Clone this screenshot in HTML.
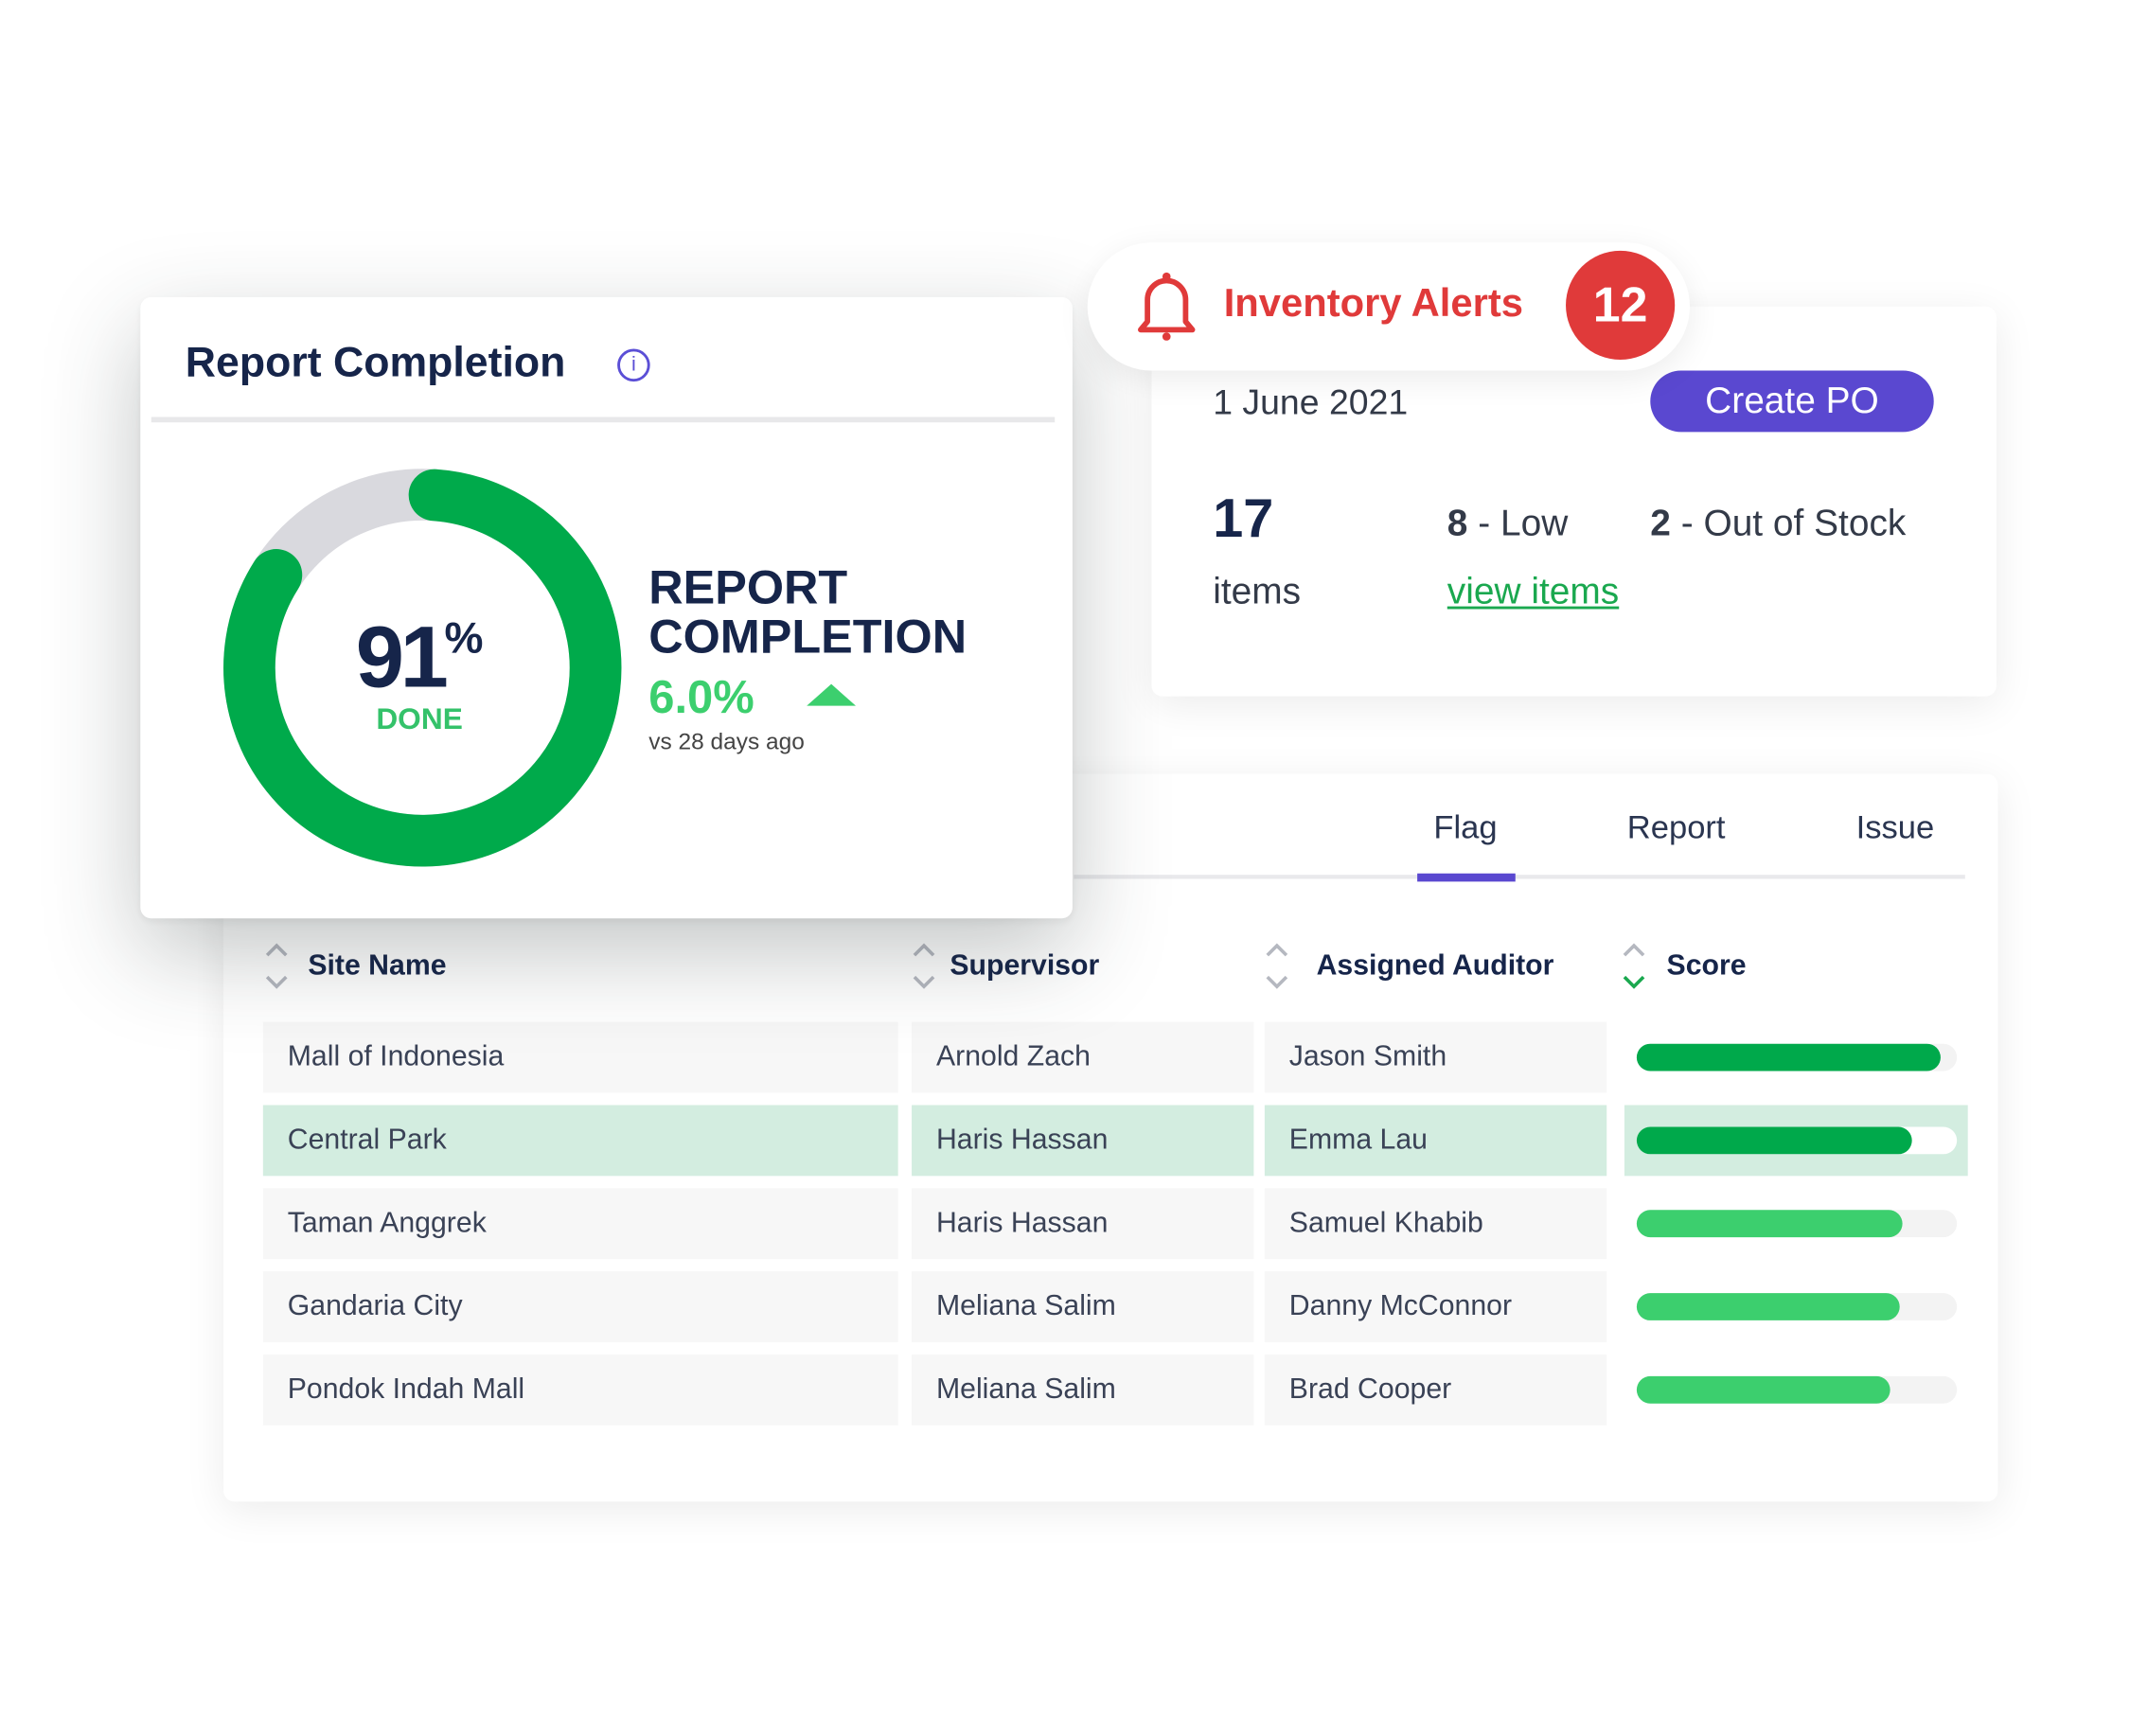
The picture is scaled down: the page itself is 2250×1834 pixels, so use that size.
<!DOCTYPE html>
<html><head><meta charset="utf-8"><style>
html,body{margin:0;padding:0;width:2250px;height:1834px;overflow:hidden;background:#fff;}
#wrap{position:absolute;left:0;top:0;width:1563px;height:1274px;transform:scale(1.43954);transform-origin:0 0;font-family:"Liberation Sans",sans-serif;color:#16254a;}
.abs{position:absolute;}
.card{position:absolute;background:#fff;border-radius:8px;}
.t{position:absolute;white-space:nowrap;line-height:1;}
.cell{position:absolute;background:#f7f7f7;height:52px;}
.cell.hl{background:#d3ede0;}
.ct{position:absolute;top:15px;font-size:21px;color:#3a4256;white-space:nowrap;line-height:1;}
.hd{font-size:21px;font-weight:bold;color:#16254a;}
</style></head><body>
<div id="wrap">

<!-- table card -->
<div class="card" style="left:164px;top:568px;width:1302px;height:534px;box-shadow:0 6px 30px rgba(0,0,0,0.08);">
</div>
<div class="t" style="left:1052px;top:596px;font-size:24px;color:#2a3550;">Flag</div>
<div class="t" style="left:1194px;top:596px;font-size:24px;color:#2a3550;">Report</div>
<div class="t" style="left:1362px;top:596px;font-size:24px;color:#2a3550;">Issue</div>
<div class="abs" style="left:788px;top:642px;width:654px;height:3px;background:#e9e9ec;"></div>
<div class="abs" style="left:1040px;top:641px;width:72px;height:6px;background:#5a48d0;"></div>

<div id="table"></div>

<!-- report completion card -->
<div class="card" style="left:103px;top:218px;width:684px;height:456px;box-shadow:0 25px 70px rgba(40,50,50,0.28),0 2px 6px rgba(0,0,0,0.06);">
 <div class="t" style="left:33px;top:32px;font-size:31px;font-weight:bold;">Report Completion</div>
 <div class="abs" style="left:350px;top:38px;width:20px;height:20px;border:2px solid #5b4fd6;border-radius:50%;color:#5b4fd6;font-size:15px;text-align:center;line-height:20px;">i</div>
 <div class="abs" style="left:8px;top:88px;width:663px;height:4px;background:#e8e8ea;"></div>
 <svg class="abs" style="left:0;top:0" width="684" height="456">
  <circle cx="207" cy="272" r="127" fill="none" stroke="#d9d9de" stroke-width="38"/>
  <path id="arc" fill="none" stroke="#00aa4b" stroke-width="38" stroke-linecap="round"/>
 </svg>
 <div class="t" style="left:158px;top:232px;font-size:64px;font-weight:bold;letter-spacing:-3px;">91<span style="font-size:32px;vertical-align:top;position:relative;top:2px;letter-spacing:0">%</span></div>
 <div class="t" style="left:173px;top:299px;font-size:22px;font-weight:bold;color:#34c26a;">DONE</div>
 <div class="t" style="left:373px;top:196px;font-size:35px;font-weight:bold;line-height:36px;">REPORT<br>COMPLETION</div>
 <div class="t" style="left:373px;top:277px;font-size:34px;font-weight:bold;color:#3ccf6e;">6.0%</div>
 <div class="abs" style="left:489px;top:284px;width:0;height:0;border-left:18px solid transparent;border-right:18px solid transparent;border-bottom:16px solid #3ccf6e;"></div>
 <div class="t" style="left:373px;top:318px;font-size:17px;color:#444;">vs 28 days ago</div>
</div>

<!-- inventory card -->
<div class="card" style="left:845px;top:225px;width:620px;height:286px;box-shadow:0 6px 30px rgba(0,0,0,0.08);">
 <div class="t" style="left:45px;top:57px;font-size:26px;color:#333a48;">1 June 2021</div>
 <div class="abs" style="left:366px;top:47px;width:208px;height:45px;border-radius:23px;background:#5a48d0;color:#fff;font-size:27px;text-align:center;line-height:45px;">Create PO</div>
 <div class="t" style="left:45px;top:136px;font-size:40px;font-weight:bold;">17</div>
 <div class="t" style="left:45px;top:196px;font-size:27px;color:#333a48;">items</div>
 <div class="t" style="left:217px;top:146px;font-size:27px;color:#333a48;"><b>8</b> - Low</div>
 <div class="t" style="left:366px;top:146px;font-size:27px;color:#333a48;"><b>2</b> - Out of Stock</div>
 <div class="t" style="left:217px;top:196px;font-size:27px;color:#1aa84f;text-decoration:underline;">view items</div>
</div>

<!-- alerts pill -->
<div class="abs" style="left:798px;top:178px;width:442px;height:94px;border-radius:47px;background:#fff;box-shadow:0 6px 24px rgba(0,0,0,0.08);">
 <svg class="abs" style="left:36px;top:20px" width="44" height="52">
  <path d="M8 38 L8 22 A14 14 0 0 1 36 22 L36 38 L41 44 L3 44 Z" fill="none" stroke="#e03a3a" stroke-width="4" stroke-linejoin="round"/>
  <circle cx="22" cy="5" r="3" fill="#e03a3a"/><circle cx="22" cy="49" r="3" fill="#e03a3a"/>
 </svg>
 <div class="t" style="left:100px;top:31px;font-size:29px;font-weight:bold;color:#e03a3a;">Inventory Alerts</div>
 <div class="abs" style="left:351px;top:6px;width:80px;height:80px;border-radius:50%;background:#e03a3a;color:#fff;font-size:36px;font-weight:bold;text-align:center;line-height:80px;">12</div>
</div>
</div>

<script>
const pct = 91;
(function(){
  const cx=207, cy=272, r=127, capDeg=8.6;
  const start=4, sweep=pct*3.6-2*capDeg-12;
  const p=a=>{const t=(a-90)*Math.PI/180;return [cx+r*Math.cos(t),cy+r*Math.sin(t)];};
  const [x1,y1]=p(start),[x2,y2]=p(start+sweep);
  const arc=document.getElementById('arc');
  arc.setAttribute('d',`M${x1} ${y1} A${r} ${r} 0 ${sweep>180?1:0} 1 ${x2} ${y2}`);
  
  
})();

const sites = ["Mall of Indonesia","Central Park","Taman Anggrek","Gandaria City","Pondok Indah Mall"];
const supervisors = ["Arnold Zach","Haris Hassan","Haris Hassan","Meliana Salim","Meliana Salim"];
const auditors = ["Jason Smith","Emma Lau","Samuel Khabib","Danny McConnor","Brad Cooper"];
const scores = [95, 86, 83, 82, 79];
const highlightRow = 1;

(function(){
  const tb=document.getElementById('table');
  const heads=[["Site Name",193,226,"header-site-name"],["Supervisor",668,697,"header-supervisor"],["Assigned Auditor",927,966,"header-assigned-auditor"],["Score",1189,1223,"header-score"]];
  heads.forEach((h,i)=>{
    const d=document.createElement('div');
    d.className='t hd';d.style.left=h[2]+'px';d.style.top='698px';d.textContent=h[0];
    
    
    tb.appendChild(d);
    const s=document.createElementNS('http://www.w3.org/2000/svg','svg');
    s.setAttribute('width','20');s.setAttribute('height','38');
    s.style.cssText='position:absolute;left:'+h[1]+'px;top:690px';
    const dc=i===3?'#1aa84f':'#b5b8c0';
    s.innerHTML='<path d="M3 11 L10 4 L17 11" fill="none" stroke="#b5b8c0" stroke-width="2.5"/><path d="M3 27 L10 34 L17 27" fill="none" stroke="'+dc+'" stroke-width="2.5"/>';
    
    
    tb.appendChild(s);
  });
  const cols=[[193,466],[669,251],[928,251],[1192,252]];
  const x0=1201, trackW=235;
  for(let r=0;r<sites.length;r++){
    const top=750+r*61;
    const vals=[sites[r],supervisors[r],auditors[r]];
    cols.forEach((c,ci)=>{
      const cell=document.createElement('div');
      cell.className='cell'+(r===highlightRow?' hl':'');
      if(ci===3&&r!==highlightRow) cell.style.background='transparent';
      cell.style.left=c[0]+'px';cell.style.top=top+'px';cell.style.width=c[1]+'px';
      
      
      if(ci<3){
        const tx=document.createElement('div');tx.className='ct';tx.style.left='18px';tx.textContent=vals[ci];
        
        
        cell.appendChild(tx);
      }
      tb.appendChild(cell);
    });
    const track=document.createElement('div');
    track.style.cssText='position:absolute;left:'+x0+'px;top:'+(top+16)+'px;width:'+trackW+'px;height:20px;border-radius:10px;background:'+(r===highlightRow?'#fff':'#f3f3f3');
    
    
    tb.appendChild(track);
    const bar=document.createElement('div');
    bar.style.cssText='position:absolute;left:'+x0+'px;top:'+(top+16)+'px;width:'+(scores[r]/100*trackW)+'px;height:20px;border-radius:10px;background:'+(r<2?'#00a94b':'#3ccf6e');
    
    
    tb.appendChild(bar);
  }
})();
</script>
</body></html>
